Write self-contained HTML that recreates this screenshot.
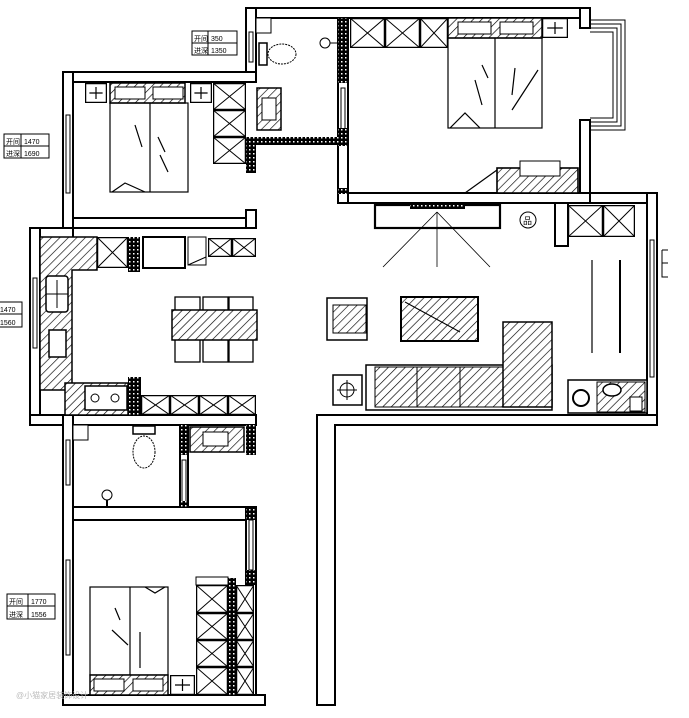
<!DOCTYPE html>
<html><head><meta charset="utf-8"><style>
html,body{margin:0;padding:0;background:#fff;}
svg{display:block;}
text{font-family:"Liberation Sans","Noto Sans CJK SC",sans-serif;}
</style></head><body>
<svg width="689" height="718" viewBox="0 0 689 718" xmlns="http://www.w3.org/2000/svg">
<defs>
<pattern id="h" width="6" height="6" patternUnits="userSpaceOnUse" patternTransform="rotate(45)">
<rect width="6" height="6" fill="#fff"/><line x1="0" y1="0" x2="0" y2="6" stroke="#000" stroke-width="1.3"/></pattern>
<pattern id="d" width="4" height="4" patternUnits="userSpaceOnUse"><rect width="4" height="4" fill="#000"/><rect x="1" y="1" width="1.5" height="1.5" fill="#fff"/></pattern>
<symbol id="x" viewBox="0 0 10 10" preserveAspectRatio="none"><rect x="0" y="0" width="10" height="10" fill="#fff" stroke="#000" stroke-width="2.5" vector-effect="non-scaling-stroke"/><path d="M0 0L10 10M10 0L0 10" stroke="#000" stroke-width="1" vector-effect="non-scaling-stroke"/></symbol>
<symbol id="p" viewBox="0 0 10 10" preserveAspectRatio="none"><rect x="0" y="0" width="10" height="10" fill="#fff" stroke="#000" stroke-width="2.5" vector-effect="non-scaling-stroke"/><path d="M5 2V8M2 5H8" stroke="#000" stroke-width="1.2" vector-effect="non-scaling-stroke"/></symbol>
</defs>
<g fill="#fff" stroke="#000" stroke-width="2">
<rect x="246" y="8" width="344" height="10"/>
<rect x="580" y="8" width="10" height="20"/>
<rect x="580" y="120" width="10" height="80"/>
<rect x="580" y="193" width="77" height="10"/>
<rect x="647" y="193" width="10" height="232"/>
<rect x="338" y="193" width="252" height="10"/>
<rect x="338" y="18" width="10" height="185"/>
<rect x="246" y="8" width="10" height="64"/>
<rect x="63" y="72" width="193" height="10"/>
<rect x="63" y="72" width="10" height="156"/>
<rect x="73" y="218" width="183" height="10"/>
<rect x="246" y="210" width="10" height="18"/>
<rect x="30" y="228" width="43" height="10"/>
<rect x="30" y="228" width="10" height="197"/>
<rect x="30" y="415" width="226" height="10"/>
<rect x="63" y="415" width="10" height="290"/>
<rect x="63" y="695" width="202" height="10"/>
<rect x="73" y="507" width="183" height="13"/>
<rect x="180" y="425" width="8" height="82"/>
<rect x="246" y="507" width="10" height="188"/>
<path d="M317 705V415H657V425H335V705Z"/>
<rect x="375" y="205" width="125" height="23" stroke-width="2.2"/>
<rect x="555" y="203" width="13" height="43"/>
</g>
<g fill="none" stroke="#000" stroke-width="1">
<path d="M590 20H625V130H590M590 24H621V126H590M590 28H617V122H590M590 32H613V118H590"/>
<rect x="66" y="115" width="4" height="78"/>
<rect x="33" y="278" width="4" height="70"/>
<rect x="66" y="440" width="4" height="45"/>
<rect x="66" y="560" width="4" height="95"/>
<rect x="650" y="240" width="4" height="137"/>
<path d="M662 250V277H668M662 263H668M662 250H668"/>
<rect x="249" y="32" width="4" height="30"/>
<rect x="341" y="88" width="4" height="45"/>
<rect x="249" y="520" width="4" height="50"/>
<rect x="182" y="460" width="4" height="45"/>
</g>
<g fill="url(#d)">
<rect x="338" y="18" width="10" height="65"/>
<rect x="338" y="128" width="10" height="18"/>
<rect x="338" y="188" width="10" height="6"/>
<rect x="246" y="137" width="100" height="8"/>
<rect x="246" y="137" width="10" height="36"/>
<rect x="128" y="237" width="12" height="35"/>
<rect x="128" y="377" width="13" height="38"/>
<rect x="180" y="425" width="8" height="30"/>
<rect x="246" y="425" width="10" height="30"/>
<rect x="180" y="501" width="8" height="6"/>
<rect x="246" y="507" width="10" height="13"/>
<rect x="246" y="570" width="10" height="15"/>
<rect x="228" y="578" width="8" height="117"/>
<rect x="410" y="205" width="55" height="4"/>
</g>
<path d="M437 212L383 267M437 212V267M437 212L490 267" stroke="#000" stroke-width="0.8" fill="none"/>
<use href="#x" x="350" y="18" width="35" height="30"/>
<use href="#x" x="385" y="18" width="35" height="30"/>
<use href="#x" x="420" y="18" width="28" height="30"/>
<rect x="448" y="18" width="94" height="20" fill="url(#h)" stroke="#000" stroke-width="1.5"/>
<rect x="458" y="22" width="33" height="12" fill="#fff" stroke="#000"/>
<rect x="500" y="22" width="33" height="12" fill="#fff" stroke="#000"/>
<use href="#p" x="542" y="18" width="26" height="20"/>
<g fill="none" stroke="#000" stroke-width="1.2">
<rect x="448" y="38" width="94" height="90"/><path d="M495 38V128M450 128L465 113L480 128M482 65L488 78M475 80L482 105M515 68L512 95M538 70L512 110"/>
<path d="M465 193L497 170"/>
</g>
<rect x="497" y="168" width="81" height="25" fill="url(#h)" stroke="#000" stroke-width="1.6"/>
<rect x="520" y="161" width="40" height="15" fill="#fff" stroke="#000"/>
<circle cx="528" cy="220" r="8" fill="#fff" stroke="#000"/><text x="523" y="224" font-size="9">品</text>
<use href="#x" x="568" y="205" width="35" height="32"/>
<use href="#x" x="603" y="205" width="32" height="32"/>
<path d="M592 260V353" stroke="#000" stroke-width="1.2"/><path d="M620 260V353" stroke="#000" stroke-width="2"/>
<rect x="568" y="380" width="79" height="33" fill="#fff" stroke="#000" stroke-width="1.5"/>
<rect x="597" y="382" width="48" height="30" fill="url(#h)" stroke="#000"/>
<circle cx="581" cy="398" r="8" fill="#fff" stroke="#000" stroke-width="2"/>
<ellipse cx="612" cy="390" rx="9" ry="6" fill="#fff" stroke="#000" stroke-width="1.5"/>
<rect x="630" y="397" width="12" height="14" fill="#fff" stroke="#000"/>
<rect x="366" y="365" width="186" height="45" fill="#fff" stroke="#000" stroke-width="1.5"/>
<rect x="375" y="367" width="42" height="40" fill="url(#h)" stroke="#000"/>
<rect x="417" y="367" width="43" height="40" fill="url(#h)" stroke="#000"/>
<rect x="460" y="367" width="43" height="40" fill="url(#h)" stroke="#000"/>
<rect x="503" y="322" width="49" height="85" fill="url(#h)" stroke="#000" stroke-width="1.5"/>
<rect x="401" y="297" width="77" height="44" fill="url(#h)" stroke="#000" stroke-width="2"/>
<path d="M405 302L460 332" stroke="#000" stroke-width="1"/>
<rect x="327" y="298" width="40" height="42" fill="#fff" stroke="#000" stroke-width="1.5"/>
<rect x="333" y="305" width="33" height="28" fill="url(#h)" stroke="#000"/>
<rect x="333" y="375" width="29" height="30" fill="#fff" stroke="#000" stroke-width="1.5"/>
<circle cx="347" cy="390" r="7" fill="none" stroke="#000"/><path d="M347 380V400M337 390H357" stroke="#000"/>
<use href="#p" x="85" y="83" width="22" height="20"/>
<rect x="110" y="83" width="75" height="20" fill="url(#h)" stroke="#000" stroke-width="1.5"/>
<rect x="115" y="87" width="30" height="12" fill="#fff" stroke="#000"/>
<rect x="153" y="87" width="30" height="12" fill="#fff" stroke="#000"/>
<use href="#p" x="190" y="83" width="22" height="20"/>
<use href="#x" x="213" y="83" width="33" height="27"/>
<use href="#x" x="213" y="110" width="33" height="27"/>
<use href="#x" x="213" y="137" width="33" height="27"/>
<g fill="none" stroke="#000" stroke-width="1.2">
<rect x="110" y="103" width="78" height="89"/><path d="M150 103V192M112 192L125 183L145 192M135 125L142 147M158 137L165 152M160 155L168 172"/>
</g>
<rect x="256" y="18" width="15" height="15" fill="#fff" stroke="#000"/>
<rect x="259" y="43" width="8" height="22" fill="#fff" stroke="#000" stroke-width="1.5"/>
<ellipse cx="282" cy="54" rx="14" ry="10" fill="#fff" stroke="#000" stroke-dasharray="2 1"/>
<rect x="257" y="88" width="24" height="42" fill="url(#h)" stroke="#000" stroke-width="1.5"/>
<rect x="262" y="98" width="14" height="22" fill="#fff" stroke="#000"/>
<circle cx="325" cy="43" r="5" fill="#fff" stroke="#000"/><path d="M330 43H338" stroke="#000"/>
<path d="M40 237H97V270H72V390H40Z" fill="url(#h)" stroke="#000" stroke-width="1.5"/>
<rect x="46" y="276" width="22" height="36" rx="3" fill="#fff" stroke="#000" stroke-width="1.5"/>
<path d="M46 294H68M57 280V308" stroke="#000"/>
<rect x="49" y="330" width="17" height="27" fill="#fff" stroke="#000" stroke-width="1.5"/>
<use href="#x" x="97" y="237" width="31" height="31"/>
<rect x="143" y="237" width="42" height="31" fill="#fff" stroke="#000" stroke-width="2"/>
<rect x="188" y="237" width="18" height="28" fill="#fff" stroke="#000"/>
<use href="#x" x="208" y="238" width="24" height="19"/>
<use href="#x" x="232" y="238" width="24" height="19"/>
<path d="M188 265L206 257" stroke="#000"/>
<path d="M65 383H128V415H65Z" fill="url(#h)" stroke="#000" stroke-width="1.5"/>
<rect x="85" y="386" width="42" height="24" fill="#fff" stroke="#000" stroke-width="1.5"/>
<circle cx="95" cy="398" r="4" fill="#fff" stroke="#000"/><circle cx="115" cy="398" r="4" fill="#fff" stroke="#000"/>
<use href="#x" x="141" y="395" width="29" height="20"/>
<use href="#x" x="170" y="395" width="29" height="20"/>
<use href="#x" x="199" y="395" width="29" height="20"/>
<use href="#x" x="228" y="395" width="28" height="20"/>
<g fill="#fff" stroke="#000" stroke-width="1.3">
<rect x="175" y="297" width="25" height="15"/><rect x="203" y="297" width="25" height="15"/><rect x="229" y="297" width="24" height="15"/>
<rect x="175" y="338" width="25" height="24"/><rect x="203" y="338" width="25" height="24"/><rect x="229" y="338" width="24" height="24"/>
</g>
<rect x="172" y="310" width="85" height="30" fill="url(#h)" stroke="#000" stroke-width="1.5"/>
<rect x="73" y="425" width="15" height="15" fill="#fff" stroke="#000"/>
<rect x="133" y="426" width="22" height="8" fill="#fff" stroke="#000" stroke-width="1.5"/>
<ellipse cx="144" cy="452" rx="11" ry="16" fill="#fff" stroke="#000" stroke-dasharray="2 1"/>
<rect x="190" y="427" width="54" height="25" fill="url(#h)" stroke="#000" stroke-width="1.5"/>
<rect x="203" y="432" width="25" height="14" fill="#fff" stroke="#000"/>
<circle cx="107" cy="495" r="5" fill="#fff" stroke="#000"/><path d="M107 500V507" stroke="#000" stroke-width="2"/>
<g fill="none" stroke="#000" stroke-width="1.2">
<rect x="90" y="587" width="78" height="88"/><path d="M130 587V675M145 587L155 593L165 587M115 608L120 620M112 630L128 645M140 632V668"/>
</g>
<rect x="90" y="675" width="78" height="20" fill="url(#h)" stroke="#000" stroke-width="1.5"/>
<rect x="94" y="679" width="30" height="12" fill="#fff" stroke="#000"/>
<rect x="133" y="679" width="30" height="12" fill="#fff" stroke="#000"/>
<use href="#p" x="170" y="675" width="25" height="20"/>
<rect x="196" y="577" width="32" height="8" fill="#fff" stroke="#000"/>
<use href="#x" x="196" y="585" width="32" height="28"/>
<use href="#x" x="196" y="613" width="32" height="27"/>
<use href="#x" x="196" y="640" width="32" height="27"/>
<use href="#x" x="196" y="667" width="32" height="28"/>
<use href="#x" x="236" y="585" width="18" height="28"/>
<use href="#x" x="236" y="613" width="18" height="27"/>
<use href="#x" x="236" y="640" width="18" height="27"/>
<use href="#x" x="236" y="667" width="18" height="28"/>
<g fill="#fff" stroke="#000" stroke-width="1">
<rect x="192" y="31" width="45" height="24"/><path d="M192 43H237M208 31V55"/>
<rect x="4" y="134" width="45" height="24"/><path d="M4 146H49M21 134V158"/>
<rect x="-20" y="302" width="42" height="25"/><path d="M-20 314H22"/>
<rect x="7" y="594" width="48" height="25"/><path d="M7 606H55M28 594V619"/>
</g>
<g font-size="7" fill="#000">
<text x="194" y="41">开间</text><text x="211" y="41">350</text><text x="194" y="53">进深</text><text x="211" y="53">1350</text>
<text x="6" y="144">开间</text><text x="24" y="144">1470</text><text x="6" y="156">进深</text><text x="24" y="156">1690</text>
<text x="0" y="312">1470</text><text x="0" y="325">1560</text>
<text x="9" y="604">开间</text><text x="31" y="604">1770</text><text x="9" y="617">进深</text><text x="31" y="617">1556</text>
</g>
<text x="16" y="698" font-size="8" fill="#bbb">@小猫家居装饰设计</text>
</svg>
</body></html>
